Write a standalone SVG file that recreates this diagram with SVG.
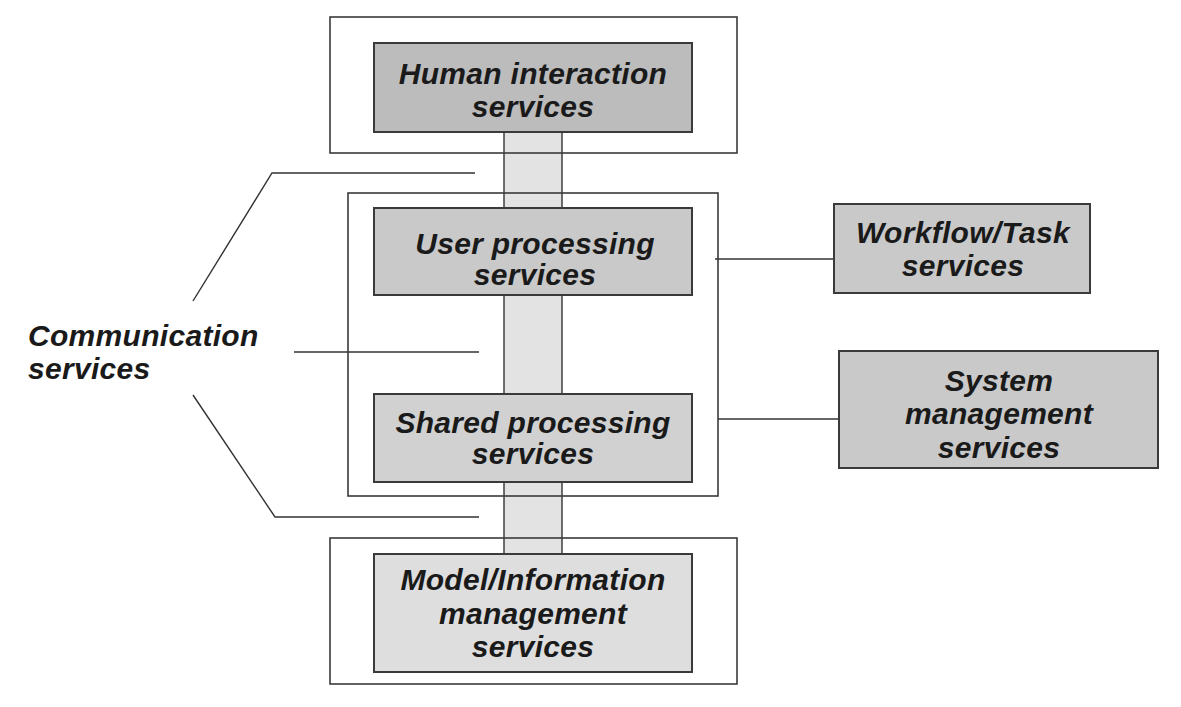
<svg xmlns="http://www.w3.org/2000/svg" width="1181" height="707" viewBox="0 0 1181 707">
<style>
.frame{fill:none;stroke:#3a3a3a;stroke-width:1.6}
.box{stroke:#3a3a3a;stroke-width:2}
.ln{stroke:#333;stroke-width:1.4;fill:none}
.col{fill:#e3e3e3;stroke:none}
.coledge{stroke:#333;stroke-width:1.4}
text{font-family:"Liberation Sans",Arial,sans-serif;font-weight:bold;font-style:italic;font-size:30px;letter-spacing:0.3px;fill:#1a1a1a;text-anchor:middle}
</style>
<rect width="1181" height="707" fill="#fff"/>
<g id="connectors">
<rect class="col" x="504" y="132" width="58" height="422"/>
<line class="coledge" x1="504" y1="132" x2="504" y2="554"/>
<line class="coledge" x1="562" y1="132" x2="562" y2="554"/>
<polyline class="ln" points="193,301 272,173 475,173"/>
<line class="ln" x1="294" y1="352" x2="479" y2="352"/>
<polyline class="ln" points="193,395 275,517 479,517"/>
<line class="ln" x1="715" y1="259" x2="834" y2="259"/>
<line class="ln" x1="718" y1="419" x2="839" y2="419"/>
</g>
<g id="top-frame"><rect class="frame" x="330" y="17" width="407" height="136"/></g>
<g id="middle-frame"><rect class="frame" x="348" y="193" width="370" height="303"/></g>
<g id="bottom-frame"><rect class="frame" x="330" y="538" width="407" height="146"/></g>
<g id="human">
<rect class="box" x="374" y="43" width="318" height="89" fill="#bcbcbc"/>
<text x="533" y="84">Human interaction</text>
<text x="533" y="117">services</text>
</g>
<g id="user">
<rect class="box" x="374" y="208" width="318" height="87" fill="#c9c9c9"/>
<text x="535" y="254">User processing</text>
<text x="535" y="285">services</text>
</g>
<g id="shared">
<rect class="box" x="374" y="394" width="318" height="88" fill="#d1d1d1"/>
<text x="533" y="433">Shared processing</text>
<text x="533" y="464">services</text>
</g>
<g id="model">
<rect class="box" x="374" y="554" width="318" height="118" fill="#dedede"/>
<text x="533" y="590">Model/Information</text>
<text x="533" y="624">management</text>
<text x="533" y="657">services</text>
</g>
<g id="workflow">
<rect class="box" x="834" y="204" width="256" height="89" fill="#c9c9c9"/>
<text x="963" y="243">Workflow/Task</text>
<text x="963" y="276">services</text>
</g>
<g id="system">
<rect class="box" x="839" y="351" width="319" height="117" fill="#c9c9c9"/>
<text x="999" y="391">System</text>
<text x="999" y="424">management</text>
<text x="999" y="458">services</text>
</g>
<g id="communication">
<text x="28" y="346" style="text-anchor:start">Communication</text>
<text x="28" y="379" style="text-anchor:start">services</text>
</g>
</svg>
